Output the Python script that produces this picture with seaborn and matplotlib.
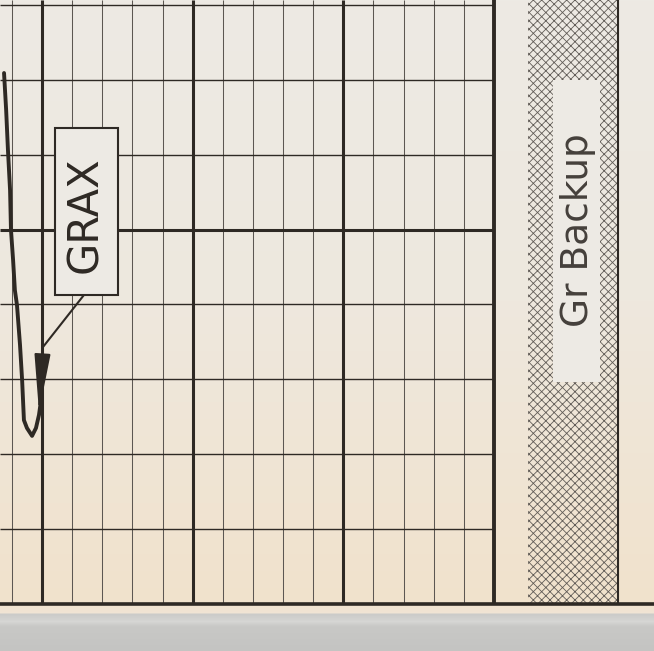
import numpy as np
import pandas as pd
import matplotlib
matplotlib.use("Agg")
import matplotlib.pyplot as plt
import seaborn as sns
from matplotlib.patches import Rectangle

# GR curve (track divisions, depth)
gr_value = [-1.26, -1.19, -1.13, -1.06, -1.03, -0.96, -0.90, -0.83,
            -0.73, -0.66, -0.60, -0.50, -0.33, -0.20, -0.10, -0.03]
depth = [1485.82, 1486.81, 1487.88, 1488.95, 1490.01, 1490.81, 1491.62, 1492.02,
         1493.08, 1494.02, 1495.09, 1495.30, 1495.51, 1495.30, 1494.95, 1494.55]

# track grid
grid_x = list(range(-1, 15))
heavy_x = [0, 5, 10]
grid_depth = list(range(1484, 1500, 2))
heavy_depth = [1490]
track_left, track_right = -1.394, 15.0
depth_top, depth_bottom = 1483.87, 1500.0
view_right = 20.31

curve_label = "GRAX"
backup_label = "Gr Backup"
backup_span = (16.13, 19.12)

# colours
INK = (0.18, 0.16, 0.14)
GRID = (0.36, 0.34, 0.32)
PAPER = (0.93, 0.918, 0.894)

sns.set_theme(style="white")
plt.rcParams["font.family"] = ["DejaVu Sans"]
plt.rcParams["hatch.linewidth"] = 0.6
plt.rcParams["hatch.color"] = (0.38, 0.36, 0.34)

fig = plt.figure(figsize=(6.54, 6.51), dpi=100)

# paper background: off-white at the top, beige near the bottom, grey scanner band
bg = fig.add_axes([0, 0, 1, 1], zorder=-5)
rows = np.arange(651)
stops = [0, 300, 604, 606, 612, 614, 621, 626, 651]
r = np.interp(rows, stops, [237, 238, 241, 241, 240, 203, 214, 200, 196])
g = np.interp(rows, stops, [234, 232, 226, 227, 228, 203, 214, 200, 196])
b = np.interp(rows, stops, [228, 222, 204, 208, 212, 201, 212, 198, 194])
img = np.stack([r, g, b], axis=1)[:, None, :] / 255.0
bg.imshow(np.repeat(img, 4, axis=1), aspect="auto", extent=[0, 1, 1, 0])
bg.set_axis_off()

ax = fig.add_axes([0, 47 / 651, 1, 604 / 651])
ax.set_facecolor("none")

# grid of the track
light_x = [v for v in grid_x if v not in heavy_x]
ax.vlines(light_x, depth_top, depth_bottom, color=GRID, lw=0.75, zorder=1)
ax.vlines(heavy_x, depth_top, depth_bottom, color=INK, lw=2.2, zorder=1)
ax.vlines([track_right], depth_top, depth_bottom, color=INK, lw=2.8, zorder=1)
light_d = [v for v in grid_depth if v not in heavy_depth]
ax.hlines(light_d, track_left, track_right, color=INK, lw=1.0, zorder=1)
ax.hlines(heavy_depth, track_left, track_right, color=INK, lw=2.2, zorder=1)

# curve
df = pd.DataFrame({"gr": gr_value, "depth": depth})
sns.lineplot(data=df, x="gr", y="depth", sort=False, estimator=None,
             color=INK, lw=2.8, ax=ax, zorder=3)

# curve label with leader and arrow
ax.add_patch(Rectangle((0.43, 1487.29), 2.09, 4.46, facecolor=PAPER,
                       edgecolor=INK, lw=1.5, zorder=4))
ax.text(1.44, 1489.61, curve_label, rotation=90, ha="center", va="center",
        fontsize=30, color=INK, zorder=5)
ax.plot([1.39, 0.03], [1491.75, 1493.14], color=INK, lw=1.5, zorder=4)
ax.annotate("", xy=(-0.10, 1494.87), xytext=(0.03, 1493.14),
            arrowprops=dict(arrowstyle="-|>,head_length=3.6,head_width=0.5",
                            color=INK, lw=1.5, shrinkA=0, shrinkB=0,
                            mutation_scale=10), zorder=4)

# backup column: cross-hatched strip with a clear window for its name
ax.axvspan(*backup_span, facecolor="none", edgecolor=(0.38, 0.36, 0.34),
           hatch="xxxx", lw=0, zorder=1)
ax.vlines([backup_span[1]], depth_top, depth_bottom, color=INK, lw=1.5, zorder=2)
ax.add_patch(Rectangle((16.96, 1486.01), 1.56, 8.06, facecolor=PAPER,
                       edgecolor="none", zorder=2))
ax.text(17.79, 1490.01, backup_label, rotation=90, ha="center", va="center",
        fontsize=27, color=(0.27, 0.25, 0.23), zorder=3)

ax.set_xlim(track_left, view_right)
ax.set_ylim(depth_bottom, depth_top)
ax.set_xticks([])
ax.set_yticks([])
ax.set_xlabel("")
ax.set_ylabel("")
for side in ["left", "right", "top"]:
    ax.spines[side].set_visible(False)
ax.spines["bottom"].set_color(INK)
ax.spines["bottom"].set_linewidth(2.6)

fig.savefig("out.png", dpi=100)
